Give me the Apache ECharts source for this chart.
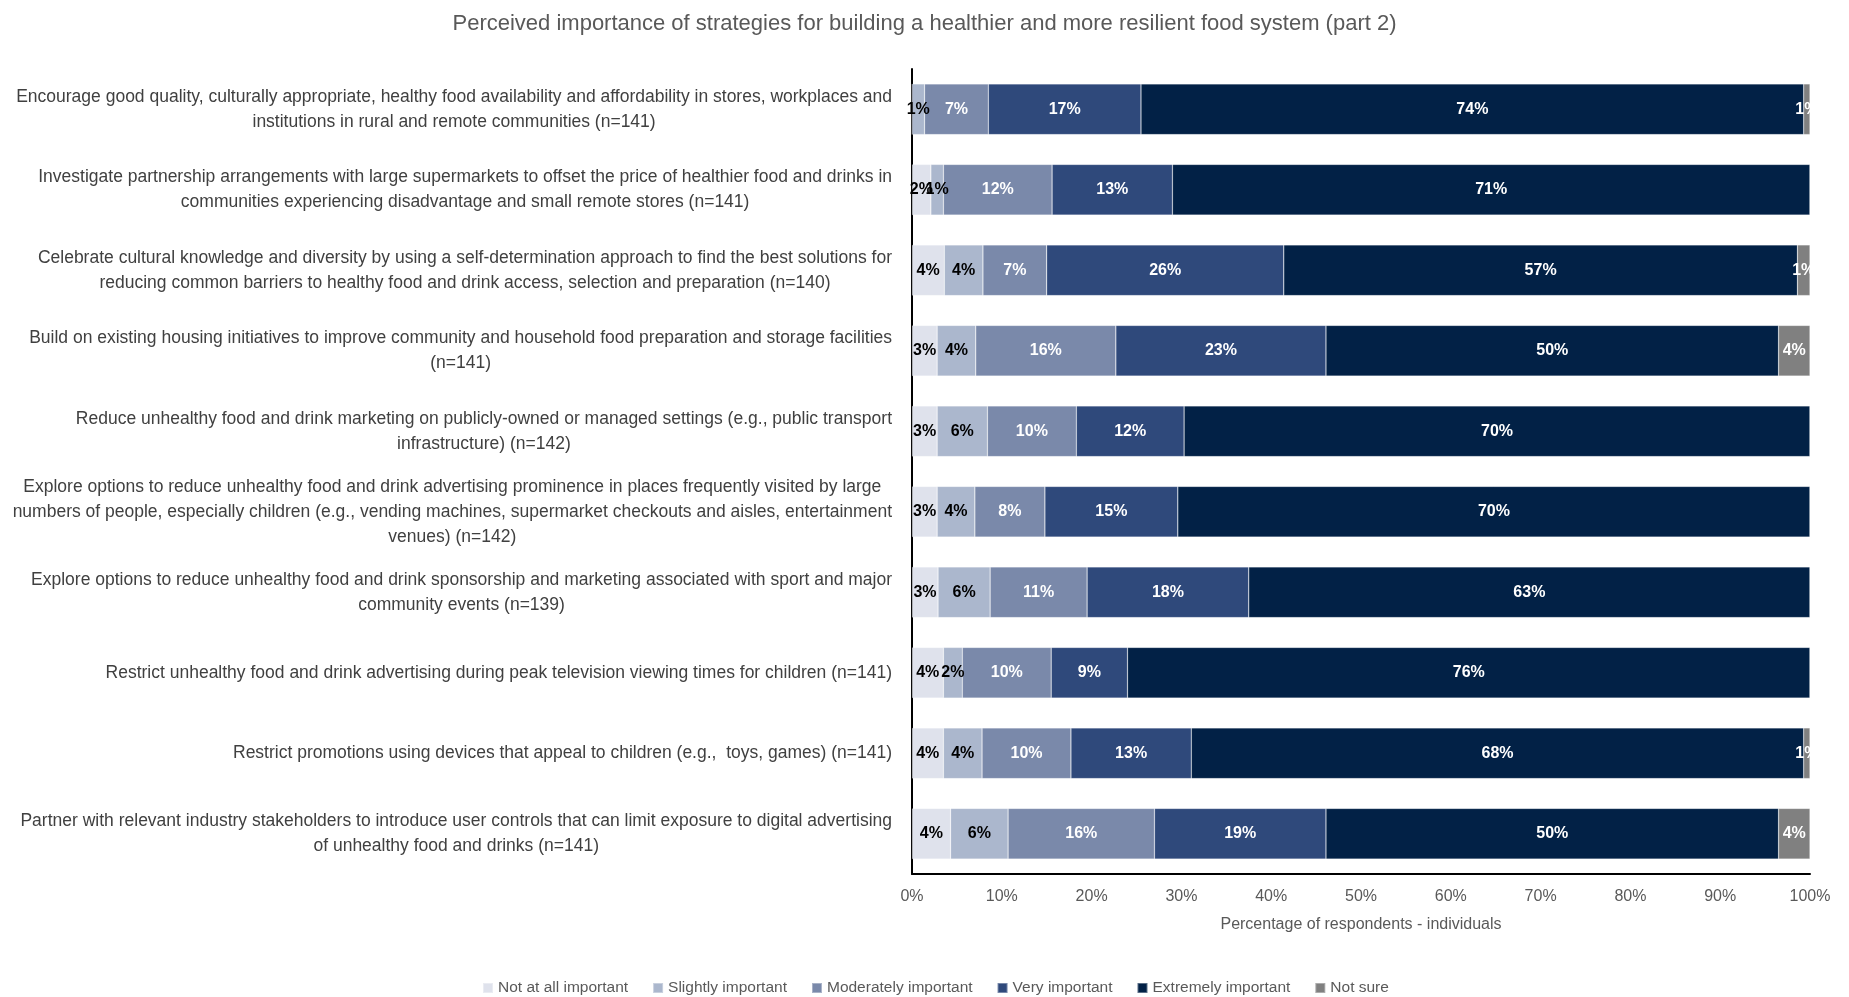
<!DOCTYPE html>
<html>
<head>
<meta charset="utf-8">
<title>Perceived importance of strategies (part 2)</title>
<script src="https://cdn.jsdelivr.net/npm/echarts@6/dist/echarts.min.js"></script>
<style>
  html, body { margin: 0; padding: 0; background: #ffffff; }
  #chart { width: 1849px; height: 997px; }
</style>
</head>
<body>
<div id="chart"></div>
<script>
// Strategy statements (top to bottom)
const strategies = [
  "Encourage good quality, culturally appropriate, healthy food availability and affordability in stores, workplaces and\ninstitutions in rural and remote communities (n=141)",
  "Investigate partnership arrangements with large supermarkets to offset the price of healthier food and drinks in\ncommunities experiencing disadvantage and small remote stores (n=141)",
  "Celebrate cultural knowledge and diversity by using a self-determination approach to find the best solutions for\nreducing common barriers to healthy food and drink access, selection and preparation (n=140)",
  "Build on existing housing initiatives to improve community and household food preparation and storage facilities\n(n=141)",
  "Reduce unhealthy food and drink marketing on publicly-owned or managed settings (e.g., public transport\ninfrastructure) (n=142)",
  "Explore options to reduce unhealthy food and drink advertising prominence in places frequently visited by large\nnumbers of people, especially children (e.g., vending machines, supermarket checkouts and aisles, entertainment\nvenues) (n=142)",
  "Explore options to reduce unhealthy food and drink sponsorship and marketing associated with sport and major\ncommunity events (n=139)",
  "Restrict unhealthy food and drink advertising during peak television viewing times for children (n=141)",
  "Restrict promotions using devices that appeal to children (e.g.,  toys, games) (n=141)",
  "Partner with relevant industry stakeholders to introduce user controls that can limit exposure to digital advertising\nof unhealthy food and drinks (n=141)"
];

// Response categories
const responseNames = [
  "Not at all important",
  "Slightly important",
  "Moderately important",
  "Very important",
  "Extremely important",
  "Not sure"
];

// Percentage of respondents per strategy, one array per response category
const notAtAll    = [0.0, 2.1, 3.6, 2.8, 2.8, 2.8, 2.9, 3.5, 3.5, 4.3];
const slightly    = [1.4, 1.4, 4.3, 4.3, 5.6, 4.2, 5.8, 2.1, 4.3, 6.4];
const moderately  = [7.1, 12.1, 7.1, 15.6, 9.9, 7.8, 10.8, 9.9, 9.9, 16.3];
const very        = [17.0, 13.4, 26.4, 23.4, 12.0, 14.8, 18.0, 8.5, 13.4, 19.1];
const extremely   = [73.8, 71.0, 57.2, 50.4, 69.7, 70.4, 62.5, 76.0, 68.2, 50.4];
const notSure     = [0.7, 0.0, 1.4, 3.5, 0.0, 0.0, 0.0, 0.0, 0.7, 3.5];

// X axis tick labels
const xTicks = ["0%", "10%", "20%", "30%", "40%", "50%", "60%", "70%", "80%", "90%", "100%"];

const seriesValues = [notAtAll, slightly, moderately, very, extremely, notSure];
const seriesColors = ["#dfe2ec", "#abb7cd", "#7a89aa", "#2f497b", "#022146", "#808080"];
const labelColors  = ["#000000", "#000000", "#ffffff", "#ffffff", "#ffffff", "#ffffff"];

const FONT = "'Liberation Sans Narrow', 'Arial Narrow', 'Liberation Sans', Arial, sans-serif";

const chart = echarts.init(document.getElementById('chart'), null, { renderer: 'canvas' });

const series = seriesValues.map((vals, i) => ({
  name: responseNames[i],
  type: 'bar',
  stack: 'total',
  barCategoryGap: '37%',
  data: vals,
  itemStyle: {
    color: seriesColors[i],
    borderColor: 'rgba(255,255,255,0.35)',
    borderWidth: 0.6
  },
  label: {
    show: true,
    position: 'inside',
    color: labelColors[i],
    fontFamily: FONT,
    fontWeight: 'bold',
    fontSize: 16,
    formatter: p => (p.value > 0 ? Math.round(p.value) + '%' : '')
  },
  emphasis: { disabled: true }
}));

chart.setOption({
  animation: false,
  backgroundColor: '#ffffff',
  title: {
    text: 'Perceived importance of strategies for building a healthier and more resilient food system (part 2)',
    left: 'center',
    top: 8,
    textStyle: {
      fontFamily: FONT,
      fontSize: 22,
      fontWeight: 'normal',
      color: '#595959'
    }
  },
  legend: {
    data: responseNames,
    left: 477,
    top: 975,
    itemWidth: 10,
    itemHeight: 10,
    itemGap: 24,
    icon: 'rect',
    textStyle: {
      fontFamily: FONT,
      fontSize: 15.5,
      color: '#595959'
    }
  },
  grid: {
    left: 912,
    right: 39,
    top: 69,
    bottom: 123,
    containLabel: false,
    outerBoundsMode: 'none'
  },
  xAxis: {
    type: 'value',
    min: 0,
    max: 100,
    interval: 10,
    name: 'Percentage of respondents - individuals',
    nameLocation: 'middle',
    nameGap: 43,
    nameTextStyle: {
      fontFamily: FONT,
      fontSize: 16,
      color: '#595959'
    },
    axisLine: { show: true, onZero: false, lineStyle: { color: '#000000', width: 2 } },
    axisTick: { show: false },
    splitLine: { show: false },
    axisLabel: {
      margin: 15,
      fontFamily: FONT,
      fontSize: 16,
      color: '#595959',
      formatter: v => xTicks[Math.round(v / 10)]
    }
  },
  yAxis: {
    type: 'category',
    inverse: true,
    data: strategies,
    axisLine: { show: true, lineStyle: { color: '#000000', width: 2 } },
    axisTick: { show: false },
    axisLabel: {
      margin: 20,
      align: 'right',
      fontFamily: FONT,
      fontSize: 17.5,
      color: '#404040',
      lineHeight: 25,
      formatter: v => v.split('\n').map(line => '{c|' + line + '}').join('\n'),
      rich: {
        c: {
          align: 'center',
          fontFamily: FONT,
          fontSize: 17.5,
          lineHeight: 25,
          color: '#404040'
        }
      }
    }
  },
  series: series
});
</script>
</body>
</html>
